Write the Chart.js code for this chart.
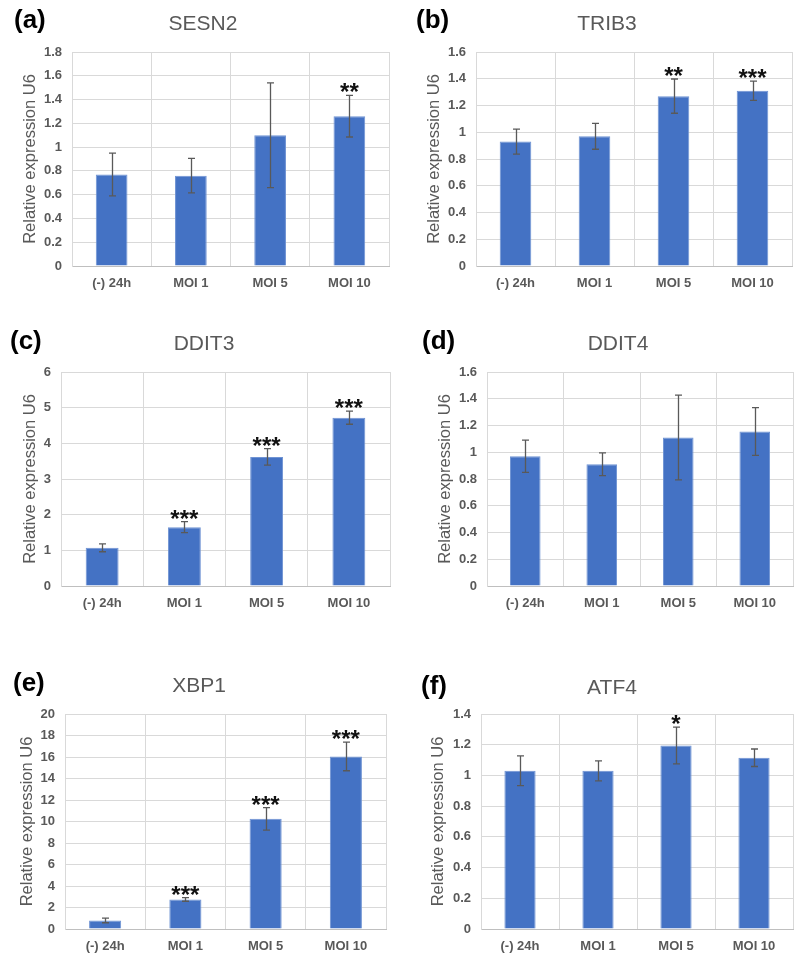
<!DOCTYPE html>
<html>
<head>
<meta charset="utf-8">
<script src="https://cdn.jsdelivr.net/npm/chart.js@4.4.1/dist/chart.umd.min.js"></script>
<style>
    body { margin: 0; background: #fff; width: 795px; height: 956px; position: relative; overflow: hidden;
           font-family: 'Liberation Sans', Arial, sans-serif; }
    .panel { position: absolute; }
    .letter { position: absolute; font-weight: bold; font-size: 26px; line-height: 26px; color: #000;
              transform: translateY(-50%); white-space: nowrap; }
    .gene { position: absolute; font-size: 21px; line-height: 21px; color: #595959;
            transform: translate(-50%, -50%); white-space: nowrap; }
</style>
</head>
<body>
<script>
// qPCR data, relative expression to U6
const categories = ['(-) 24h', 'MOI 1', 'MOI 5', 'MOI 10'];
const letters = ['(a)', '(b)', '(c)', '(d)', '(e)', '(f)'];
const genes = ['SESN2', 'TRIB3', 'DDIT3', 'DDIT4', 'XBP1', 'ATF4'];

const sesn2Mean = [0.77, 0.76, 1.10, 1.26];
const sesn2Err  = [0.18, 0.145, 0.44, 0.175];
const sesn2Sig  = ['', '', '', '**'];

const trib3Mean = [0.93, 0.97, 1.27, 1.31];
const trib3Err  = [0.093, 0.097, 0.128, 0.072];
const trib3Sig  = ['', '', '**', '***'];

const ddit3Mean = [1.07, 1.65, 3.62, 4.72];
const ddit3Err  = [0.11, 0.155, 0.23, 0.185];
const ddit3Sig  = ['', '***', '***', '***'];

const ddit4Mean = [0.97, 0.91, 1.11, 1.155];
const ddit4Err  = [0.12, 0.085, 0.317, 0.178];
const ddit4Sig  = ['', '', '', ''];

const xbp1Mean = [0.8, 2.75, 10.25, 16.05];
const xbp1Err  = [0.22, 0.17, 1.05, 1.33];
const xbp1Sig  = ['', '***', '***', '***'];

const atf4Mean = [1.03, 1.03, 1.195, 1.115];
const atf4Err  = [0.097, 0.065, 0.12, 0.057];
const atf4Sig  = ['', '', '*', ''];

// y axis: max and step for each panel
const yMax  = [1.8, 1.6, 6, 1.6, 20, 1.4];
const yStep = [0.2, 0.2, 1, 0.2, 2, 0.2];

const means = [sesn2Mean, trib3Mean, ddit3Mean, ddit4Mean, xbp1Mean, atf4Mean];
const errs  = [sesn2Err, trib3Err, ddit3Err, ddit4Err, xbp1Err, atf4Err];
const sigs  = [sesn2Sig, trib3Sig, ddit3Sig, ddit4Sig, xbp1Sig, atf4Sig];

// layout: canvas box [left, top, w, h], plot area edges, y title center x, letter / gene title spots
const layout = [
    { box: [0, 0, 397, 300],     l: 72,  r: 389, t: 52,  b: 266, yt: 30,  let: [14, 19],   gene: [203, 22] },
    { box: [398, 0, 397, 300],   l: 476, r: 792, t: 52,  b: 266, yt: 434, let: [416, 19],  gene: [607, 22] },
    { box: [0, 300, 397, 320],   l: 61,  r: 390, t: 372, b: 586, yt: 30,  let: [10, 340],  gene: [204, 342] },
    { box: [398, 300, 397, 320], l: 487, r: 793, t: 372, b: 586, yt: 445, let: [422, 340], gene: [618, 342] },
    { box: [0, 620, 397, 336],   l: 65,  r: 386, t: 714, b: 929, yt: 27,  let: [13, 682],  gene: [199, 684] },
    { box: [398, 620, 397, 336], l: 481, r: 793, t: 714, b: 929, yt: 438, let: [421, 685], gene: [612, 686] }
];

const textGray = '#595959';
const gridGray = '#d9d9d9';
const barBlue = '#4472c4';

// error bars + significance stars
const errBarPlugin = {
    id: 'errBars',
    afterDatasetsDraw(chart, args, opts) {
        const ctx = chart.ctx;
        const y = chart.scales.y;
        const meta = chart.getDatasetMeta(0);
        const vals = chart.data.datasets[0].data;
        ctx.save();
        meta.data.forEach((bar, i) => {
            const hi = y.getPixelForValue(vals[i] + opts.err[i]);
            const lo = y.getPixelForValue(vals[i] - opts.err[i]);
            const x = Math.round(bar.x) + 0.5;
            ctx.strokeStyle = textGray;
            ctx.lineWidth = 1.3;
            ctx.beginPath();
            ctx.moveTo(x, hi); ctx.lineTo(x, lo);
            ctx.moveTo(x - 3.5, hi); ctx.lineTo(x + 3.5, hi);
            ctx.moveTo(x - 3.5, lo); ctx.lineTo(x + 3.5, lo);
            ctx.stroke();
            const s = opts.sig[i];
            if (s) {
                ctx.font = 'bold 24px "Liberation Sans", Arial, sans-serif';
                ctx.fillStyle = '#111';
                ctx.textAlign = 'center';
                ctx.textBaseline = 'alphabetic';
                const m = ctx.measureText(s);
                ctx.fillText(s, bar.x, hi - 3 - m.actualBoundingBoxDescent);
            }
        });
        ctx.restore();
    }
};

layout.forEach((p, k) => {
    const [bx, by, bw, bh] = p.box;

    const wrap = document.createElement('div');
    wrap.className = 'panel';
    wrap.style.left = bx + 'px';
    wrap.style.top = by + 'px';
    wrap.style.width = bw + 'px';
    wrap.style.height = bh + 'px';
    const cv = document.createElement('canvas');
    wrap.appendChild(cv);
    document.body.appendChild(wrap);

    const lt = document.createElement('div');
    lt.className = 'letter';
    lt.style.left = p.let[0] + 'px';
    lt.style.top = p.let[1] + 'px';
    lt.textContent = letters[k];
    document.body.appendChild(lt);

    const gt = document.createElement('div');
    gt.className = 'gene';
    gt.style.left = p.gene[0] + 'px';
    gt.style.top = p.gene[1] + 'px';
    gt.textContent = genes[k];
    document.body.appendChild(gt);

    const yWidth = p.l - bx;
    const xHeight = by + bh - p.b;

    new Chart(cv, {
        type: 'bar',
        data: {
            labels: categories,
            datasets: [{
                data: means[k],
                backgroundColor: barBlue,
                borderColor: '#6f93d3',
                borderWidth: 1,
                barPercentage: 0.4,
                categoryPercentage: 1
            }]
        },
        options: {
            responsive: true,
            maintainAspectRatio: false,
            animation: false,
            layout: { padding: { left: 0, top: p.t - by, right: bx + bw - p.r, bottom: 0 } },
            scales: {
                x: {
                    offset: true,
                    grid: { offset: true, color: gridGray, drawTicks: false },
                    border: { color: '#bfbfbf' },
                    ticks: {
                        color: textGray, padding: 10, maxRotation: 0, autoSkip: false,
                        font: { family: "'Liberation Sans', Arial, sans-serif", size: 13, weight: 'bold' }
                    },
                    afterFit: s => { s.height = xHeight; }
                },
                y: {
                    min: 0,
                    max: yMax[k],
                    grid: { color: gridGray, drawTicks: false },
                    border: { color: gridGray },
                    ticks: {
                        stepSize: yStep[k], color: textGray, padding: 10,
                        font: { family: "'Liberation Sans', Arial, sans-serif", size: 13, weight: 'bold' },
                        callback: v => String(Math.round(v * 10) / 10)
                    },
                    title: {
                        display: true,
                        text: 'Relative expression U6',
                        color: textGray,
                        font: { family: "'Liberation Sans', Arial, sans-serif", size: 16.5, lineHeight: 1.2 },
                        padding: { top: p.yt - bx - 9.9, bottom: 0 }
                    },
                    afterFit: s => { s.width = yWidth; }
                }
            },
            plugins: {
                legend: { display: false },
                tooltip: { enabled: false },
                errBars: { err: errs[k], sig: sigs[k] }
            }
        },
        plugins: [errBarPlugin]
    });
});
</script>
</body>
</html>
